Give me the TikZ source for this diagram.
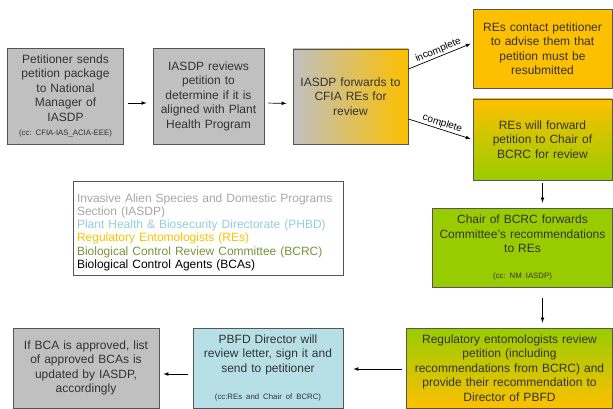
\documentclass[tikz,border=0pt]{standalone}
\usepackage{fontspec}
\setmainfont{Liberation Sans}
\usepackage{tikz}
\definecolor{boxgray}{RGB}{192,192,192}
\definecolor{edgegray}{RGB}{85,85,85}
\definecolor{reyellow}{RGB}{252,192,0}
\definecolor{bcgreen}{RGB}{153,204,0}
\definecolor{phblue}{RGB}{183,224,230}
\colorlet{lggray}{black!35}
\definecolor{lgblue}{RGB}{146,205,220}
\colorlet{lgyellow}{reyellow}
\definecolor{lggreen}{RGB}{119,147,60}
\newcommand{\ccnote}[1]{{\fontsize{7.8}{9}\selectfont\frenchspacing #1}}

\begin{document}
\begin{tikzpicture}[
            x=1pt, y=-1pt,
            box/.style={draw=edgegray,line width=0.9pt,align=center,text=black!80,
                font=\fontsize{12}{14.5}\selectfont,inner sep=2pt},
            flow/.style={-latex,line width=0.7pt},
            tag/.style={font=\fontsize{10}{12}\selectfont,sloped,above,inner sep=1pt}
        ]
            \useasboundingbox (0,0) rectangle (613,409);

            \node[box,fill=boxgray,minimum width=116pt,minimum height=96pt,text width=112pt] (send) at (65.5,96)
                {Petitioner sends\\ petition package\\ to National\\ Manager of\\ IASDP\\ \ccnote{(cc: CFIA-IAS\_ACIA-EEE)}};
            \node[box,fill=boxgray,minimum width=111pt,minimum height=96pt,text width=106pt] (screen) at (208.5,96)
                {IASDP reviews\\ petition to\\ determine if it is\\ aligned with Plant\\ Health Program};
            \node[box,left color=boxgray,middle color=boxgray!55!reyellow,right color=reyellow,
                minimum width=115pt,minimum height=95pt,text width=110pt] (fwd) at (350.5,96.5)
                {IASDP forwards to\\ CFIA REs for\\ review};
            \node[box,fill=reyellow,minimum width=139pt,minimum height=79pt,text width=134pt] (resub) at (542.5,48.5)
                {REs contact petitioner\\ to advise them that\\ petition must be\\ resubmitted};
            \node[box,top color=reyellow,bottom color=bcgreen,minimum width=139pt,minimum height=81pt,text width=134pt] (tochair) at (542.5,139.5)
                {REs will forward\\ petition to Chair of\\ BCRC for review};
            \node[box,fill=bcgreen,minimum width=179pt,minimum height=79pt,text width=176pt] (chair) at (522.5,247.5)
                {Chair of BCRC forwards\\ Committee’s recommendations\\ to REs\\[11pt] \ccnote{(cc: NM IASDP)}};
            \node[box,top color=bcgreen,bottom color=reyellow,minimum width=205pt,minimum height=80pt,text width=202pt] (revrec) at (509.5,368)
                {Regulatory entomologists review\\ petition (including\\ recommendations from BCRC) and\\ provide their recommendation to\\ Director of PBFD};
            \node[box,fill=phblue,minimum width=150pt,minimum height=80pt,text width=146pt] (director) at (268,368)
                {PBFD Director will\\ review letter, sign it and\\ send to petitioner\\[13pt] \ccnote{(cc:REs and Chair of BCRC)}};
            \node[box,fill=boxgray,minimum width=146pt,minimum height=80pt,text width=142pt] (update) at (86,368)
                {If BCA is approved, list\\ of approved BCAs is\\ updated by IASDP,\\ accordingly};

            \node[draw=edgegray,line width=0.6pt,align=left,minimum width=270pt,minimum height=90pt,text width=262pt,
                inner sep=4pt,font=\fontsize{12}{13.3}\selectfont] (legend) at (208,228)
                {\rule{0pt}{17pt}\textcolor{lggray}{Invasive Alien Species and Domestic Programs}\\
                 \textcolor{lggray}{Section (IASDP)}\\
                 \textcolor{lgblue}{Plant Health \& Biosecurity Directorate (PHBD)}\\
                 \textcolor{lgyellow}{Regulatory Entomologists (REs)}\\
                 \textcolor{lggreen}{Biological Control Review Committee (BCRC)}\\
                 \textcolor{black}{Biological Control Agents (BCAs)}};

            \foreach \a/\b in {send/screen,screen/fwd} {
                \draw [flow,shorten <=4pt,shorten >=6pt] ([yshift=-7pt]\a.east) -- ([yshift=-7pt]\b.west);
            }
            \draw [flow,shorten >=2pt] ([yshift=27.5pt]fwd.east) -- node[tag]{incomplete} ([yshift=5.5pt]resub.west);
            \draw [flow,shorten >=2pt] ([yshift=-22.5pt]fwd.east) -- node[tag]{complete} (tochair.west);
            \draw [flow,shorten <=3pt,shorten >=5pt] (tochair.south) -- (tochair.south |- chair.north);
            \draw [flow,shorten <=11pt,shorten >=5pt] (tochair.south |- chair.south) -- (tochair.south |- revrec.north);
            \draw [flow,shorten <=4pt,shorten >=10pt] ([yshift=-1pt]revrec.west) -- ([yshift=-1pt]director.east);
            \draw [flow,shorten <=5pt,shorten >=4pt] ([yshift=-6pt]director.west) -- ([yshift=-6pt]update.east);
        \end{tikzpicture}
\end{document}
